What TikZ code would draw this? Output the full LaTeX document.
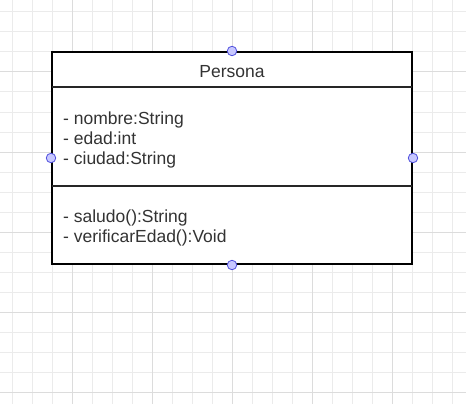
\documentclass[tikz,border=0pt]{standalone}
\usepackage{fontspec}
\setmainfont{Liberation Sans}
\usetikzlibrary{positioning}

\definecolor{gridminor}{HTML}{EBEBEB}
\definecolor{gridmajor}{HTML}{DCDCDC}
\definecolor{handlefill}{HTML}{C8C8FF}
\definecolor{handledraw}{HTML}{5050DD}
\definecolor{txtcol}{HTML}{333333}

\tikzset{
  classbox/.style={draw=black,line width=2pt,minimum width=360pt,minimum height=212pt,inner sep=0pt},
  divider/.style={draw=black!85,line width=1.6pt},
  handle/.style={circle,fill=handlefill,draw=handledraw,line width=0.8pt,minimum size=9.5pt,inner sep=0pt},
  member/.style={anchor=base west,inner sep=0pt,text=txtcol,font=\fontsize{17.5pt}{20pt}\selectfont},
}

\begin{document}
\begin{tikzpicture}[x=1pt,y=-1pt]
    \useasboundingbox (0,0) rectangle (466,404);
    \fill[white] (0,0) rectangle (466,404);
    % grid
    \foreach \k in {12,32,...,452} \draw[gridminor,line width=1pt] (\k,0) -- (\k,404);
    \foreach \k in {12,32,...,392} \draw[gridminor,line width=1pt] (0,\k) -- (466,\k);
    \foreach \k in {72,152,...,392} {
      \draw[gridmajor,line width=1pt] (\k,0) -- (\k,404);
      \draw[gridmajor,line width=1pt] (0,\k) -- (466,\k);
    }

    % class
    \node[classbox,fill=white] (persona) at (232,158) {};
    \coordinate (d1w) at (52,87);
    \coordinate (d1e) at (412,87);
    \coordinate (d2w) at (52,186);
    \coordinate (d2e) at (412,186);
    \draw[divider] (d1w) -- (d1e);
    \draw[divider] (d2w) -- (d2e);

    \node[member,anchor=base] (title) at (232,77.5) {Persona};
    \node[member] (attr1) at (63,124) {- nombre:String};
    \node[member] (attr2) at (63,144) {- edad:int};
    \node[member] (attr3) at (63,164) {- ciudad:String};
    \node[member] (meth1) at (63,222) {- saludo():String};
    \node[member] (meth2) at (63,242) {- verificarEdad():Void};

    % handles
    \node[handle] (hn) at (persona.north) {};
    \node[handle] (hs) at (persona.south) {};
    \node[handle] (hw) at (persona.west) {};
    \node[handle] (he) at (persona.east) {};
\end{tikzpicture}
\end{document}
